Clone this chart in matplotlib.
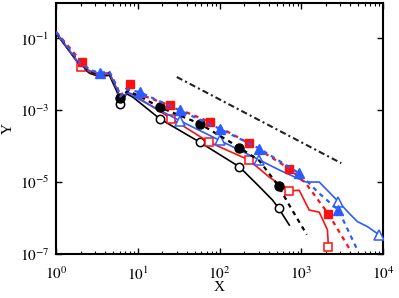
import matplotlib
matplotlib.use("Agg")
import matplotlib.pyplot as plt
from matplotlib.ticker import LogLocator, FixedLocator, NullLocator

plt.rcParams['font.family'] = ['Liberation Serif', 'DejaVu Serif']
plt.rcParams['mathtext.fontset'] = 'stix'

# ---- data ----
x_blk_solid = [1, 2, 2.6, 3.4, 4.5, 5.6, 6.1, 7.3, 8.7, 18.5, 57, 175, 307, 446, 529, 714]
y_blk_solid = [1.4e-1, 1.66e-2, 1.07e-2, 8.7e-3, 9.5e-3, 3.2e-3, 1.55e-3, 2.9e-3, 2.35e-3,
               5.9e-4, 1.32e-4, 2.7e-5, 7.6e-6, 3.2e-6, 1.9e-6, 6.5e-7]
mk_blk_solid = [6.1, 18.5, 57, 175, 529]

x_blk_dash = [1, 2, 2.6, 3.4, 4.5, 5.6, 6.1, 7.5, 10.5, 18.5, 57, 175, 307, 529, 700, 1170]
y_blk_dash = [1.45e-1, 1.9e-2, 1.2e-2, 1.0e-2, 1.1e-2, 4.0e-3, 2.2e-3, 3.5e-3, 2.5e-3,
              1.23e-3, 4.3e-4, 9.3e-5, 4.0e-5, 7.8e-6, 2.5e-6, 3.5e-7]
mk_blk_dash = [6.1, 18.5, 57, 175, 529]

x_red_solid = [1, 2, 2.6, 3.4, 4.5, 5.6, 6.1, 7.5, 8.7, 25.8, 74, 228, 406, 714, 945, 1250, 1660, 2090, 2150]
y_red_solid = [1.5e-1, 1.66e-2, 1.17e-2, 9.5e-3, 1.05e-2, 3.8e-3, 1.9e-3, 3.2e-3, 2.8e-3,
               5.9e-4, 1.32e-4, 4.2e-5, 1.4e-5, 5.8e-6, 6.0e-6, 1.7e-6, 1.48e-6, 4.8e-7, 1.6e-7]
mk_red_solid = [2, 25.8, 74, 228, 714, 2150]

x_red_dash = [1, 2.06, 2.6, 3.4, 4.5, 5.6, 6.1, 8.1, 10.5, 24.6, 75.5, 228, 714, 1140, 2150, 3850]
y_red_dash = [1.55e-1, 2.2e-2, 1.3e-2, 1.07e-2, 1.17e-2, 4.5e-3, 2.5e-3, 5.5e-3, 2.8e-3,
              1.38e-3, 4.8e-4, 1.23e-4, 2.4e-5, 9.3e-6, 1.32e-6, 1.48e-7]
mk_red_dash = [2.06, 8.1, 24.6, 75.5, 228, 714, 2150]

x_blu_solid = [1, 2, 2.6, 3.4, 4.5, 5.6, 6.1, 7.5, 10.5, 32.6, 100, 307, 540, 1140, 1660,
               2850, 3850, 4860, 6440, 8940]
y_blu_solid = [1.48e-1, 1.78e-2, 1.26e-2, 1.05e-2, 1.12e-2, 3.8e-3, 2.0e-3, 3.2e-3, 2.0e-3,
               5.2e-4, 1.48e-4, 4.2e-5, 2.2e-5, 1.02e-5, 1.02e-5, 2.9e-6, 1.38e-6, 8.1e-7,
               5.9e-7, 3.5e-7]
mk_blu_solid = [32.6, 100, 307, 2850, 8940]

x_blu_dash = [1, 2, 2.6, 3.44, 4.5, 5.6, 6.1, 7.5, 10.6, 32.6, 100, 307, 945, 1660, 2850, 4860]
y_blu_dash = [1.5e-1, 2.0e-2, 1.32e-2, 1.12e-2, 1.17e-2, 4.2e-3, 2.4e-3, 3.8e-3, 3.2e-3,
              1.0e-3, 3.1e-4, 8.7e-5, 1.78e-5, 4.9e-6, 1.7e-6, 1.32e-7]
mk_blu_dash = [3.44, 10.6, 32.6, 100, 307, 945, 2850]

x_ref = [30, 3090]
y_ref = [8.5e-3, 3.4e-5]

xticks = [1, 10, 100, 1000, 10000]
xticklabels = [r'$10^{0}$', r'$10^{1}$', r'$10^{2}$', r'$10^{3}$', r'$10^{4}$']
yticks = [1e-7, 1e-5, 1e-3, 1e-1]
yticklabels = [r'$10^{-7}$', r'$10^{-5}$', r'$10^{-3}$', r'$10^{-1}$']

# ---- figure ----
fig = plt.figure(figsize=(3.99, 2.98), dpi=100)
ax = fig.add_axes([0.1404, 0.1467, 0.8195, 0.8449])

RED = '#ff1010'
BLUE = '#2a5cff'

def idx(xs, marks):
    return [xs.index(m) for m in marks]

ax.plot(x_blk_solid, y_blk_solid, '-', color='black', lw=1.2, marker='o', ms=6,
        mfc='white', mec='black', mew=1.1, markevery=idx(x_blk_solid, mk_blk_solid), zorder=3)
ax.plot(x_red_solid, y_red_solid, '-', color=RED, lw=1.2, marker='s', ms=5.5,
        mfc='white', mec=RED, mew=1.1, markevery=idx(x_red_solid, mk_red_solid), zorder=3)
ax.plot(x_blu_solid, y_blu_solid, '-', color=BLUE, lw=1.2, marker='^', ms=6.5,
        mfc='white', mec=BLUE, mew=1.1, markevery=idx(x_blu_solid, mk_blu_solid), zorder=3)

ax.plot(x_blk_dash, y_blk_dash, color='black', lw=1.6, ls=(0, (2.0, 2.0)), marker='o', ms=6.5,
        mfc='black', mec='black', markevery=idx(x_blk_dash, mk_blk_dash), zorder=4)
ax.plot(x_red_dash, y_red_dash, color=RED, lw=1.6, ls=(0, (2.0, 2.0)), marker='s', ms=6,
        mfc=RED, mec=RED, markevery=idx(x_red_dash, mk_red_dash), zorder=4)
ax.plot(x_blu_dash, y_blu_dash, color=BLUE, lw=1.6, ls=(0, (2.0, 2.0)), marker='^', ms=7,
        mfc=BLUE, mec=BLUE, markevery=idx(x_blu_dash, mk_blu_dash), zorder=4)

ax.plot(x_ref, y_ref, color='#222222', lw=1.5, ls=(0, (3, 1.5, 1, 1.5)), zorder=2)

ax.set_xscale('log')
ax.set_yscale('log')
ax.set_xlim(1, 1e4)
ax.set_ylim(1e-7, 1e0)

ax.xaxis.set_major_locator(FixedLocator(xticks))
ax.set_xticklabels(xticklabels)
ax.xaxis.set_minor_locator(LogLocator(base=10, subs=range(2, 10), numticks=20))
ax.yaxis.set_major_locator(FixedLocator(yticks))
ax.set_yticklabels(yticklabels)
ax.yaxis.set_minor_locator(NullLocator())

ax.tick_params(which='both', direction='in', top=True, right=True, labelsize=11)
ax.tick_params(axis='x', which='major', pad=8)
ax.tick_params(axis='y', which='major', pad=5)
ax.tick_params(which='major', length=4, width=1)
ax.tick_params(which='minor', length=2.5, width=0.8)
for s in ax.spines.values():
    s.set_linewidth(1.5)

ax.set_xlabel('X', fontsize=11, labelpad=-1)
ax.set_ylabel('Y', fontsize=11, labelpad=3)

fig.savefig('out.png', dpi=100)
